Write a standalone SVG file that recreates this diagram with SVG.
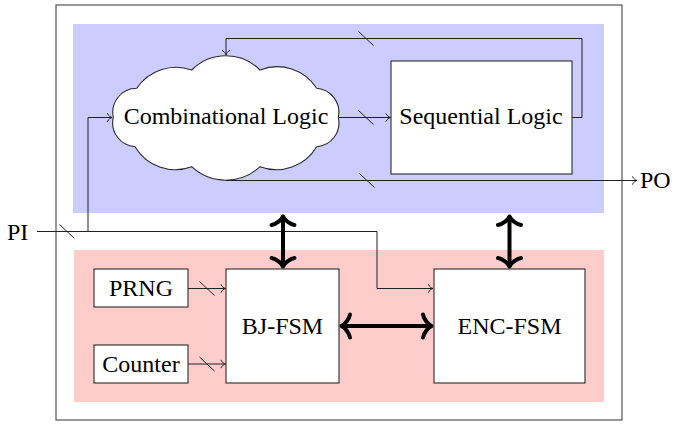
<svg xmlns="http://www.w3.org/2000/svg" width="673" height="426" viewBox="0 0 673 426">
  <defs>
    <style>
      .txt { font-family: "Liberation Serif", "Times New Roman", serif; font-size: 24px; fill: #000; }
      .box { fill: #fff; stroke: #2a2a2a; stroke-width: 1.1; }
      .wire { fill: none; stroke: #222; stroke-width: 1; }
      .thick { fill: none; stroke: #000; stroke-width: 4; }
      .slash { stroke: #222; stroke-width: 1; }
    </style>
    <marker id="tip" markerUnits="userSpaceOnUse" markerWidth="12" markerHeight="12" viewBox="-6 -6 12 12" refX="0" refY="0" orient="auto" overflow="visible">
      <path d="M -4.5 -3.8 C -3.8 -1.8 -1.2 -0.3 0 0 C -1.2 0.3 -3.8 1.8 -4.5 3.8" fill="none" stroke="#222" stroke-width="1" stroke-linecap="round"/>
    </marker>
    <marker id="big" markerUnits="userSpaceOnUse" markerWidth="40" markerHeight="40" viewBox="-20 -20 40 40" refX="0" refY="0" orient="auto-start-reverse" overflow="visible">
      <path d="M -8.5 -11.5 C -7.8 -7 -3 -1 0 0 C -3 1 -7.8 7 -8.5 11.5" fill="none" stroke="#000" stroke-width="4" stroke-linecap="round" stroke-linejoin="round"/>
    </marker>
  </defs>

  <g id="frame">
    <rect x="56" y="5" width="566" height="415" fill="#fff" stroke="#555" stroke-width="1.2"/>
    <rect x="73" y="24" width="531" height="189" fill="#ccccff"/>
    <rect x="74" y="250" width="530" height="152" fill="#ffcccc"/>
  </g>

  <g id="combinational">
    <path class="box" d="M 136.7 88.3 A 47 47 0 0 1 191.7 70 A 48 48 0 0 1 260 70 A 47 47 0 0 1 316.7 88.3 A 24 24 0 0 1 338.3 117.3 A 24 24 0 0 1 316.7 146.7 A 47 47 0 0 1 260 166.7 A 50 50 0 0 1 191.7 166.7 A 47 47 0 0 1 135 146.7 A 24 24 0 0 1 113.3 117.3 A 24 24 0 0 1 136.7 88.3 Z"/>
    <text class="txt" x="226" y="124" text-anchor="middle">Combinational Logic</text>
  </g>

  <g id="sequential">
    <rect class="box" x="391" y="61" width="181" height="113"/>
    <text class="txt" x="481" y="124" text-anchor="middle">Sequential Logic</text>
  </g>

  <g id="prng">
    <rect class="box" x="94" y="269" width="94" height="38"/>
    <text class="txt" x="141" y="296" text-anchor="middle">PRNG</text>
  </g>

  <g id="counter">
    <rect class="box" x="94" y="345" width="94" height="38"/>
    <text class="txt" x="141" y="372" text-anchor="middle">Counter</text>
  </g>

  <g id="bjfsm">
    <rect class="box" x="226" y="269" width="113" height="114"/>
    <text class="txt" x="282.5" y="334" text-anchor="middle">BJ-FSM</text>
  </g>

  <g id="encfsm">
    <rect class="box" x="434" y="269" width="151" height="114"/>
    <text class="txt" x="509.5" y="334" text-anchor="middle">ENC-FSM</text>
  </g>

  <g id="pi">
    <text class="txt" x="7" y="240">PI</text>
  </g>
  <g id="po">
    <text class="txt" x="640" y="188">PO</text>
  </g>

  <g id="connectors">
    <path class="wire" d="M 37 231.5 H 377 V 288.5 H 433" marker-end="url(#tip)"/>
    <path class="wire" d="M 88 231.5 V 117.5 H 112" marker-end="url(#tip)"/>
    <path class="wire" d="M 338.3 117.5 H 390.5" marker-end="url(#tip)"/>
    <path class="wire" d="M 572 117.5 H 582 V 38.5 H 226 V 55" marker-end="url(#tip)"/>
    <path class="wire" d="M 226 180.5 H 637" marker-end="url(#tip)"/>
    <path class="wire" d="M 188 288.5 H 225.5" marker-end="url(#tip)"/>
    <path class="wire" d="M 188 364 H 225.5" marker-end="url(#tip)"/>

    <line class="slash" x1="59.5" y1="224.5" x2="74.5" y2="238.5"/>
    <line class="slash" x1="358.5" y1="110.5" x2="373.5" y2="124.5"/>
    <line class="slash" x1="358.5" y1="31.5" x2="373.5" y2="45.5"/>
    <line class="slash" x1="359.5" y1="173.5" x2="374.5" y2="187.5"/>
    <line class="slash" x1="199.5" y1="281.5" x2="214.5" y2="295.5"/>
    <line class="slash" x1="199.5" y1="357" x2="214.5" y2="371"/>

    <path class="thick" d="M 283 216.5 V 266.5" marker-start="url(#big)" marker-end="url(#big)"/>
    <path class="thick" d="M 509.5 216.5 V 266.5" marker-start="url(#big)" marker-end="url(#big)"/>
    <path class="thick" d="M 341.5 326 H 431.5" marker-start="url(#big)" marker-end="url(#big)"/>
  </g>
</svg>
